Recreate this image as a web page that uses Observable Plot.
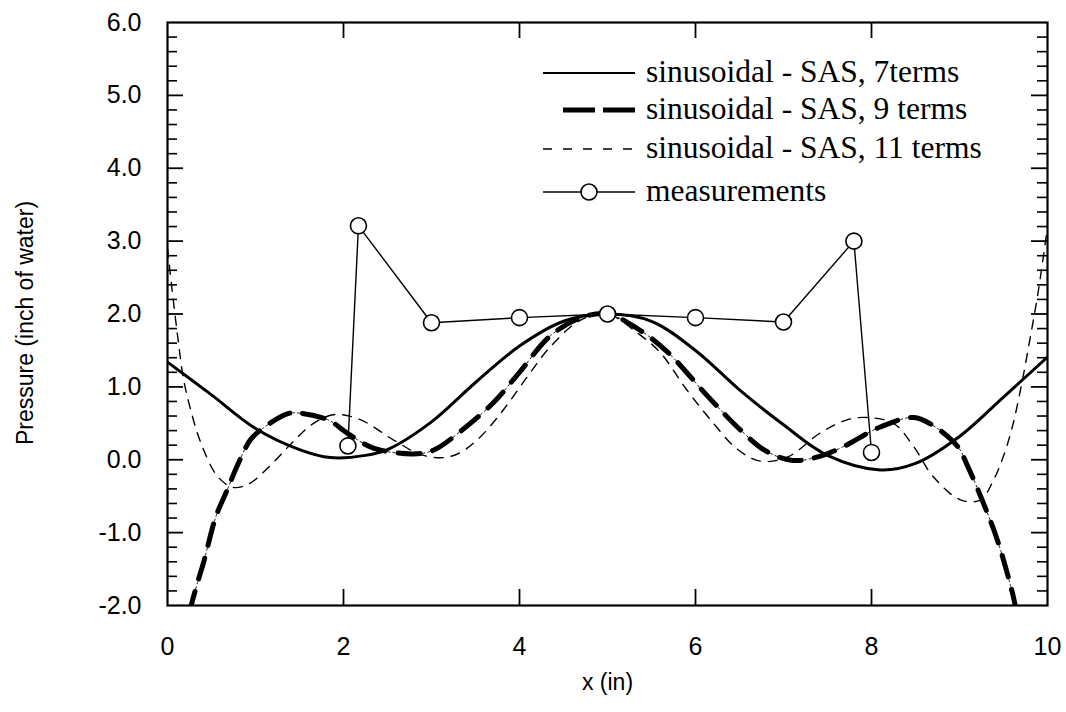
<!DOCTYPE html>
<html>
<head>
<meta charset="utf-8">
<script src="https://cdn.jsdelivr.net/npm/d3@7"></script>
<script src="https://cdn.jsdelivr.net/npm/@observablehq/plot@0.6"></script>
<style>
  html, body { margin: 0; padding: 0; background: #ffffff; }
  #wrap { position: relative; width: 1066px; height: 712px; overflow: hidden; background: #ffffff; }
  #legend { position: absolute; left: 0; top: 0; pointer-events: none; }
</style>
</head>
<body>
<div id="wrap"></div>
<script>
// ---- Data ----
const x7  = [0, 0.5, 1.0, 1.5, 1.85, 2.25, 2.5, 3.0, 3.5, 4.0, 4.5, 5.0, 5.5, 6.0, 6.5, 7.0, 7.5, 8.1, 8.5, 9.0, 9.5, 10.0];
const y7  = [1.34, 0.89, 0.43, 0.14, 0.03, 0.06, 0.14, 0.52, 1.06, 1.56, 1.90, 2.00, 1.90, 1.50, 0.96, 0.48, 0.06, -0.14, -0.05, 0.32, 0.86, 1.41];

const x9  = [0.25, 0.28, 0.34, 0.41, 0.55, 0.68, 0.79, 0.94, 1.06, 1.36, 1.5, 1.82, 2.05, 2.34, 2.8, 3.02, 3.33, 3.7, 4.0, 4.35, 4.7, 5.0, 5.34, 5.68, 6.14, 6.51, 6.8, 7.11, 7.42, 7.68, 8.1, 8.48, 8.7, 8.98, 9.09, 9.27, 9.43, 9.6, 9.65];
const y9  = [-2.1, -1.95, -1.69, -1.41, -0.78, -0.41, -0.09, 0.27, 0.41, 0.63, 0.64, 0.55, 0.36, 0.16, 0.08, 0.13, 0.39, 0.78, 1.2, 1.7, 1.95, 2.0, 1.8, 1.48, 0.87, 0.41, 0.12, -0.01, 0.05, 0.18, 0.45, 0.58, 0.47, 0.18, -0.08, -0.59, -1.1, -1.82, -2.1];

const x11 = [0, 0.06, 0.12, 0.18, 0.26, 0.38, 0.57, 0.75, 0.94, 1.2, 1.43, 1.66, 1.9, 2.19, 2.57, 2.88, 3.14, 3.33, 3.56, 3.82, 4.09, 4.35, 4.7, 5.0, 5.34, 5.6, 5.9, 6.17, 6.48, 6.74, 7.05, 7.42, 7.73, 7.95, 8.25, 8.48, 8.7, 9.01, 9.24, 9.39, 9.5, 9.6, 9.7, 9.8, 9.9, 10.0];
const y11 = [2.9, 2.25, 1.65, 1.12, 0.7, 0.23, -0.23, -0.38, -0.32, -0.04, 0.25, 0.5, 0.62, 0.55, 0.27, 0.07, 0.03, 0.1, 0.32, 0.69, 1.14, 1.55, 1.92, 2.0, 1.74, 1.47, 0.96, 0.55, 0.14, -0.02, 0.04, 0.37, 0.55, 0.58, 0.5, 0.18, -0.23, -0.55, -0.55, -0.27, 0.05, 0.45, 1.0, 1.65, 2.35, 3.2];

const xMeas = [2.05, 2.17, 3.0, 4.0, 5.0, 6.0, 7.0, 7.8, 8.0];
const yMeas = [0.19, 3.21, 1.88, 1.95, 2.0, 1.95, 1.89, 3.0, 0.1];

const xTickLabels = [0, 2, 4, 6, 8, 10];
const yTickLabels = [-2, -1, 0, 1, 2, 3, 4, 5, 6];
const xMajorInner = [2, 4, 6, 8];
const yMajorInner = [-1, 0, 1, 2, 3, 4, 5];
const yMinor = d3.range(-2, 6.0001, 0.2).map(v => +v.toFixed(2)).filter(v => Math.abs(v - Math.round(v)) > 1e-6);

const seriesNames = ["sinusoidal - SAS, 7terms", "sinusoidal - SAS, 9 terms", "sinusoidal - SAS, 11 terms", "measurements"];

const toRows = (xs, ys) => xs.map((x, i) => ({x, y: ys[i]}));
const s7 = toRows(x7, y7), s9 = toRows(x9, y9), s11 = toRows(x11, y11), meas = toRows(xMeas, yMeas);

// ---- Layout ----
const W = 1066, H = 712, mL = 167, mR = 19, mT = 22, mB = 107;
const pW = W - mL - mR, pH = H - mT - mB;
const majorLen = 16, minorLen = 10;

const chart = Plot.plot({
  width: W, height: H,
  marginLeft: mL, marginRight: mR, marginTop: mT, marginBottom: mB,
  style: {background: "#ffffff", color: "#000", fontFamily: "'Liberation Sans', Arial, sans-serif"},
  x: {domain: [0, 10]},
  y: {domain: [-2, 6]},
  marks: [
    // curves
    Plot.line(s11, {x: "x", y: "y", curve: "catmull-rom", stroke: "#000", strokeWidth: 1.4, strokeDasharray: "9,8", clip: true}),
    Plot.line(s9, {x: "x", y: "y", curve: "catmull-rom", stroke: "#000", strokeWidth: 0.9, strokeDasharray: "2,3", clip: true}),
    Plot.line(s9, {x: "x", y: "y", curve: "catmull-rom", stroke: "#000", strokeWidth: 5, strokeDasharray: "22,13", clip: true}),
    Plot.line(s7, {x: "x", y: "y", curve: "catmull-rom", stroke: "#000", strokeWidth: 3, clip: true}),
    Plot.line(meas, {x: "x", y: "y", stroke: "#000", strokeWidth: 1.4}),
    Plot.dot(meas, {x: "x", y: "y", r: 8, fill: "#fff", stroke: "#000", strokeWidth: 1.6}),
    // inward ticks
    Plot.tickY(yMajorInner, {y: d => d, insetRight: pW - majorLen, stroke: "#000", strokeWidth: 1.8}),
    Plot.tickY(yMinor, {y: d => d, insetRight: pW - minorLen, stroke: "#000", strokeWidth: 1.6}),
    Plot.tickY(yMajorInner, {y: d => d, insetLeft: pW - majorLen, stroke: "#000", strokeWidth: 1.8}),
    Plot.tickY(yMinor, {y: d => d, insetLeft: pW - minorLen, stroke: "#000", strokeWidth: 1.6}),
    Plot.tickX(xMajorInner, {x: d => d, insetTop: pH - majorLen, stroke: "#000", strokeWidth: 1.8}),
    Plot.tickX(xMajorInner, {x: d => d, insetBottom: pH - majorLen, stroke: "#000", strokeWidth: 1.8}),
    // tick labels
    Plot.axisX({ticks: xTickLabels, tickSize: 0, tickPadding: 32, fontSize: 25, label: null, tickFormat: d => String(d)}),
    Plot.axisY({ticks: yTickLabels, tickSize: 0, tickPadding: 26, fontSize: 25, label: null, tickFormat: d => d.toFixed(1)}),
    // axis titles
    Plot.text(["x (in)"], {text: d => d, frameAnchor: "bottom", textAnchor: "middle", dy: 84, fontSize: 23}),
    Plot.text(["Pressure (inch of water)"], {text: d => d, frameAnchor: "left", textAnchor: "middle", dx: -142, dy: 9, rotate: -90, fontSize: 23}),
    Plot.frame({stroke: "#000", strokeWidth: 2.2})
  ]
});

const wrap = document.getElementById("wrap");
wrap.appendChild(chart);

// ---- Legend (overlay) ----
const ns = "http://www.w3.org/2000/svg";
const leg = document.createElementNS(ns, "svg");
leg.setAttribute("id", "legend");
leg.setAttribute("width", W);
leg.setAttribute("height", H);
const rowsY = [73, 110, 149, 192];
const x0 = 543, x1 = 635, tx = 646;
const styles = [
  {w: 2.2, dash: null, x0: x0},
  {w: 5, dash: "32,8", x0: 563},
  {w: 1.4, dash: "9,11", x0: x0},
  {w: 1.4, dash: null, x0: x0, circle: true}
];
seriesNames.forEach((name, i) => {
  const s = styles[i];
  const ln = document.createElementNS(ns, "line");
  ln.setAttribute("x1", s.x0); ln.setAttribute("x2", x1);
  ln.setAttribute("y1", rowsY[i]); ln.setAttribute("y2", rowsY[i]);
  ln.setAttribute("stroke", "#000"); ln.setAttribute("stroke-width", s.w);
  if (s.dash) ln.setAttribute("stroke-dasharray", s.dash);
  leg.appendChild(ln);
  if (s.circle) {
    const c = document.createElementNS(ns, "circle");
    c.setAttribute("cx", (x0 + x1) / 2); c.setAttribute("cy", rowsY[i]); c.setAttribute("r", 8);
    c.setAttribute("fill", "#fff"); c.setAttribute("stroke", "#000"); c.setAttribute("stroke-width", 1.6);
    leg.appendChild(c);
  }
  const t = document.createElementNS(ns, "text");
  t.setAttribute("x", tx); t.setAttribute("y", rowsY[i]);
  t.setAttribute("dy", "0.3em");
  t.setAttribute("font-family", "'Liberation Serif', 'Times New Roman', serif");
  t.setAttribute("font-size", 31.5);
  t.setAttribute("fill", "#000");
  t.textContent = name;
  leg.appendChild(t);
});
wrap.appendChild(leg);
</script>
</body>
</html>
